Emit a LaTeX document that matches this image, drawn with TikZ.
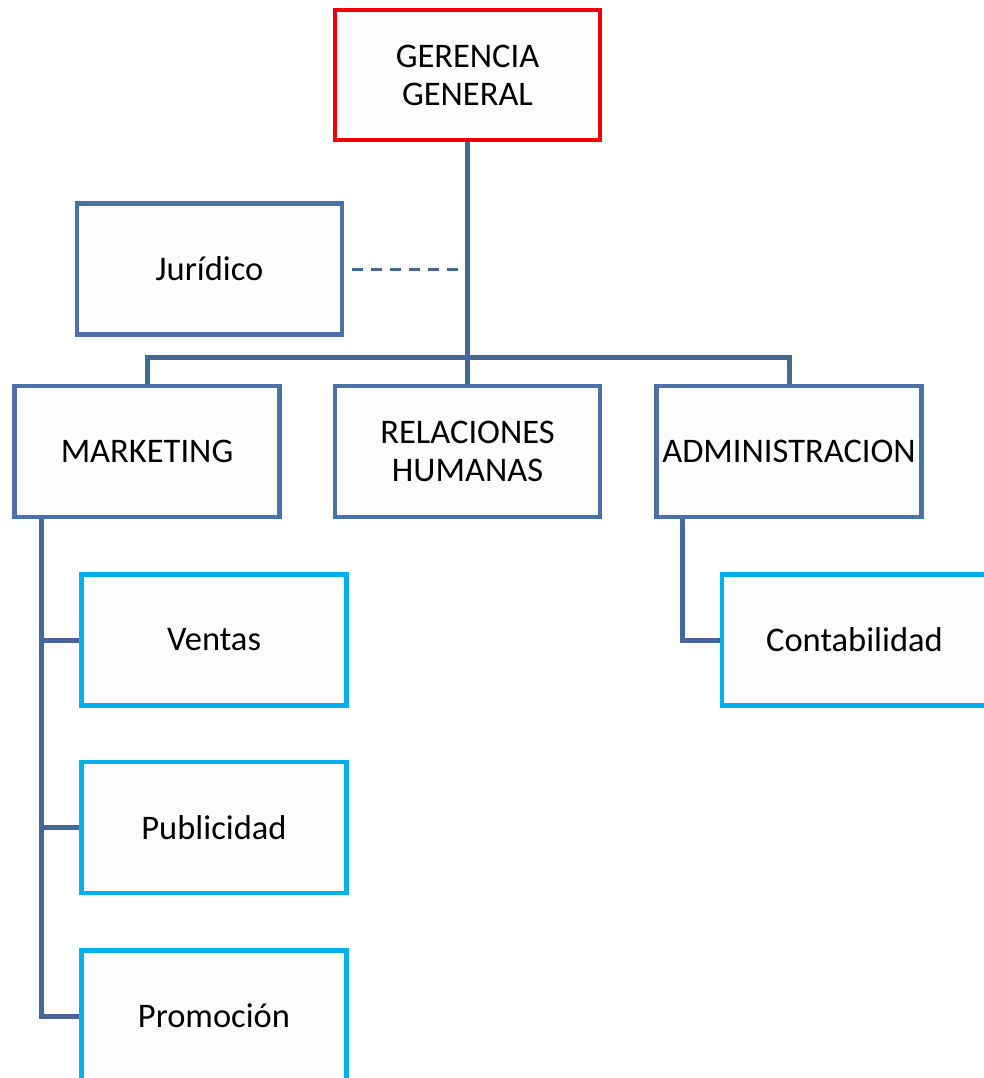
\documentclass[tikz,border=0pt]{standalone}
\usepackage{fontspec}
\setmainfont{Carlito}
\definecolor{boxblue}{HTML}{4A72A8}
\definecolor{linkblue}{HTML}{45679B}
\definecolor{lightblue}{HTML}{00B0F0}
\definecolor{topred}{HTML}{F00000}
\definecolor{boxfill}{HTML}{FDFDFD}
\begin{document}
\begin{tikzpicture}[x=1pt,y=-1pt,
  every node/.style={font=\fontsize{34.5}{38}\selectfont, align=center, inner sep=0pt},
  unitbox/.style={draw=boxblue, line width=4.5pt, fill=boxfill, rectangle, minimum width=265pt, minimum height=131pt},
  subbox/.style={draw=lightblue, line width=4.5pt, fill=boxfill, rectangle, minimum width=265pt, minimum height=131pt},
  headbox/.style={draw=topred, line width=4.5pt, fill=boxfill, rectangle, minimum width=265pt, minimum height=130pt},
  link/.style={draw=linkblue, line width=5pt},
  dashlink/.style={draw=linkblue, line width=3pt, dash pattern=on 11pt off 8pt}
]
\useasboundingbox (0,0) rectangle (984,1078);
\clip (0,0) rectangle (984,1078);
\fill[white] (0,0) rectangle (984,1078);

\node[headbox] (ger) at (467.5,75) {GERENCIA\\GENERAL};
\node[unitbox] (jur) at (209.5,269) {Jurídico};
\node[unitbox] (mkt) at (147,451.5) {MARKETING};
\node[unitbox] (rel) at (467.5,451.5) {RELACIONES\\HUMANAS};
\node[unitbox] (adm) at (789,451.5) {ADMINISTRACION};
\node[subbox] (ven) at (214,640) {Ventas};
\node[subbox] (pub) at (214,827.5) {Publicidad};
\node[subbox] (pro) at (214,1016) {Promoción};
\node[subbox] (con) at (854.5,640) {Contabilidad};

\coordinate (bar) at (467,357);
\coordinate (mv) at (41,0);
\coordinate (av) at (682,0);

\path[link] (ger.south) -- (rel.north);
\path[link] (mkt.north) |- (bar) -| (adm.north);
\path[link] (mkt.south -| mv) |- (pro.west);
\path[link] (mkt.south -| mv) |- (ven.west);
\path[link] (mkt.south -| mv) |- (pub.west);
\path[link] (adm.south -| av) |- (con.west);
\path[dashlink] ([xshift=8pt]jur.east) -- (jur.east -| ger.south);
\end{tikzpicture}
\end{document}
